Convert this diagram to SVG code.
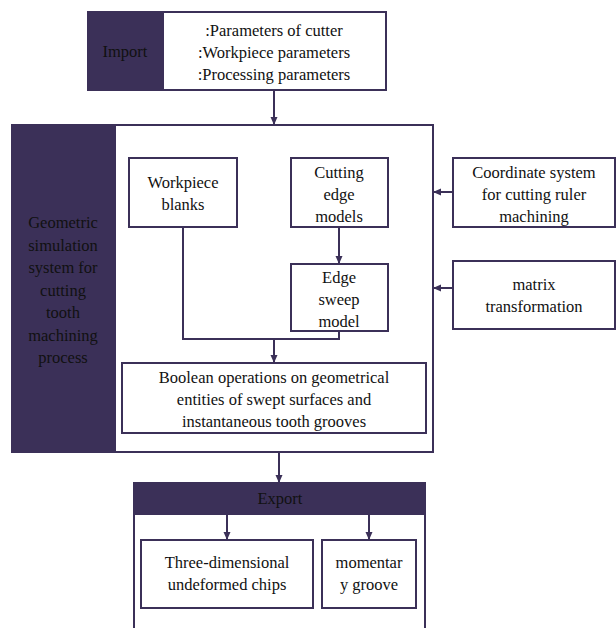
<svg xmlns="http://www.w3.org/2000/svg" width="616" height="628" viewBox="0 0 616 628">
<style>
.box{fill:#fff;stroke:#3b3058;stroke-width:2}
.dark{fill:#3b3058;stroke:#3b3058;stroke-width:2}
.ln{fill:none;stroke:#3b3058;stroke-width:2}
text{font-family:"Times New Roman","Liberation Serif",Tinos,"Noto Serif","DejaVu Serif",serif;font-size:16.5px;fill:#111;text-anchor:middle}
</style>
<defs>
<marker id="ah" markerWidth="8" markerHeight="8" refX="7" refY="4" orient="auto" markerUnits="userSpaceOnUse">
<path d="M0,0.5 L8,4 L0,7.5 Z" fill="#3b3058"/>
</marker>
</defs>
<rect width="616" height="628" fill="#fff"/>
<g id="import">
<rect class="box" x="88" y="12" width="298" height="78"/>
<rect class="dark" x="88" y="12" width="75" height="78"/>
<text x="125" y="57">Import</text>
<text x="274" y="36">:Parameters of cutter</text>
<text x="274" y="58">:Workpiece parameters</text>
<text x="274" y="80">:Processing parameters</text>
</g>
<g id="main">
<rect class="box" x="12" y="125" width="421" height="327"/>
<rect class="dark" x="12" y="125" width="103" height="327"/>
<text x="63" y="228">Geometric</text>
<text x="63" y="251">simulation</text>
<text x="63" y="273">system for</text>
<text x="63" y="296">cutting</text>
<text x="63" y="318">tooth</text>
<text x="63" y="341">machining</text>
<text x="63" y="363">process</text>
</g>
<g id="workpiece">
<rect class="box" x="129" y="158" width="108" height="69"/>
<text x="183" y="188">Workpiece</text>
<text x="183" y="210">blanks</text>
</g>
<g id="cutting">
<rect class="box" x="291" y="158" width="97" height="69"/>
<text x="339" y="178">Cutting</text>
<text x="339" y="200">edge</text>
<text x="339" y="222">models</text>
</g>
<g id="sweep">
<rect class="box" x="291" y="264" width="97" height="67"/>
<text x="339" y="283">Edge</text>
<text x="339" y="305">sweep</text>
<text x="339" y="327">model</text>
</g>
<g id="boolean">
<rect class="box" x="122" y="363" width="304" height="70"/>
<text x="274" y="383">Boolean operations on geometrical</text>
<text x="274" y="405">entities of swept surfaces and</text>
<text x="274" y="427">instantaneous tooth grooves</text>
</g>
<g id="coord">
<rect class="box" x="453" y="158" width="162" height="69"/>
<text x="534" y="178">Coordinate system</text>
<text x="534" y="200">for cutting ruler</text>
<text x="534" y="222">machining</text>
</g>
<g id="matrix">
<rect class="box" x="453" y="261" width="162" height="68"/>
<text x="534" y="290">matrix</text>
<text x="534" y="312">transformation</text>
</g>
<g id="export">
<path class="ln" d="M134,628 V483 H425 V628"/>
<rect class="dark" x="134" y="483" width="291" height="31"/>
<text x="280" y="504">Export</text>
</g>
<g id="chips">
<rect class="box" x="141" y="540" width="172" height="68"/>
<text x="227" y="568">Three-dimensional</text>
<text x="227" y="590">undeformed chips</text>
</g>
<g id="groove">
<rect class="box" x="322" y="540" width="94" height="68"/>
<text x="369" y="568">momentar</text>
<text x="369" y="590">y groove</text>
</g>
<g id="connectors">
<line class="ln" x1="274" y1="90" x2="274" y2="124" marker-end="url(#ah)"/>
<line class="ln" x1="339" y1="227" x2="339" y2="263" marker-end="url(#ah)"/>
<path class="ln" d="M183,227 V339 H339 V331"/>
<line class="ln" x1="274" y1="339" x2="274" y2="362" marker-end="url(#ah)"/>
<line class="ln" x1="453" y1="192" x2="434" y2="192" marker-end="url(#ah)"/>
<line class="ln" x1="453" y1="288" x2="434" y2="288" marker-end="url(#ah)"/>
<line class="ln" x1="279" y1="452" x2="279" y2="482" marker-end="url(#ah)"/>
<line class="ln" x1="227" y1="514" x2="227" y2="539" marker-end="url(#ah)"/>
<line class="ln" x1="369" y1="514" x2="369" y2="539" marker-end="url(#ah)"/>
</g>
</svg>
